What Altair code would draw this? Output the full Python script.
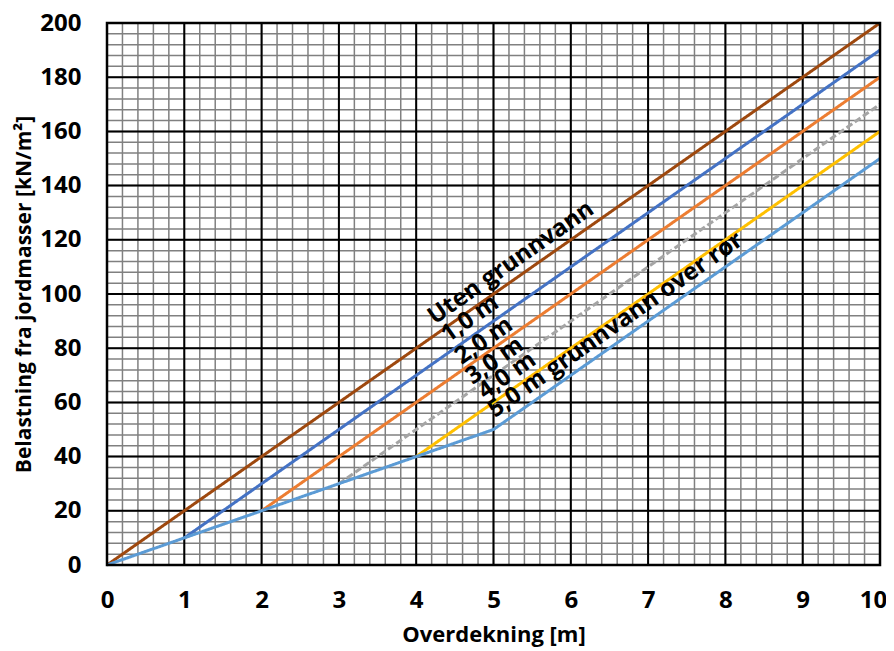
import altair as alt
import pandas as pd

# ---- data ----
series_names = ["Uten grunnvann", "1,0 m", "2,0 m", "3,0 m", "4,0 m", "5,0 m grunnvann over rør"]
series_x = [
    [0, 10],
    [1, 10],
    [2, 10],
    [3, 10],
    [4, 10],
    [0, 1, 2, 3, 4, 5, 10],
]
series_y = [
    [0, 200],
    [10, 190],
    [20, 180],
    [30, 170],
    [40, 160],
    [0, 10, 20, 30, 40, 50, 150],
]
series_colors = ["#9E480E", "#4472C4", "#ED7D31", "#A5A5A5", "#FFC000", "#5B9BD5"]
series_dash = [[1, 0], [1, 0], [1, 0], [7, 3], [1, 0], [1, 0]]

label_texts = ["Uten grunnvann", "1,0 m", "2,0 m", "3,0 m", "4,0 m", "5,0 m grunnvann over rør"]
label_x = [4.24, 4.41, 4.59, 4.73, 4.89, 5.02]
label_y = [88.6, 81.9, 73.8, 66.4, 60.9, 54.2]

x_ticks = [0, 1, 2, 3, 4, 5, 6, 7, 8, 9, 10]
y_ticks = [0, 20, 40, 60, 80, 100, 120, 140, 160, 180, 200]
x_minor = [i / 5 for i in range(51)]
y_minor = [i * 4 for i in range(51)]

# ---- build tables ----
rows = []
for k, name in enumerate(series_names):
    for xv, yv in zip(series_x[k], series_y[k]):
        rows.append({"series": name, "order": k, "x": xv, "y": yv})
lines_df = pd.DataFrame(rows)
labels_df = pd.DataFrame({"text": label_texts, "x": label_x, "y": label_y})

W, H = 773, 542
FONT = "Open Sans"

xscale = alt.Scale(domain=[0, 10], nice=False, zero=False)
yscale = alt.Scale(domain=[0, 200], nice=False, zero=False)
xaxis = alt.Axis(values=x_ticks, title="Overdekning [m]", grid=False, ticks=False, domain=False,
                 labelPadding=23, titlePadding=12, labelFlush=False, format="d",
                 labelOffset=alt.ExprRef(expr="datum.value == 10 ? -7 : 0"))
yaxis = alt.Axis(values=y_ticks, title="Belastning fra jordmasser [kN/m²]", grid=False, ticks=False,
                 domain=False, labelPadding=26, titlePadding=5, labelFlush=False, format="d",
                 titleFontSize=21)

X = lambda: alt.X("x:Q", scale=xscale, axis=xaxis)
Y = lambda: alt.Y("y:Q", scale=yscale, axis=yaxis)

xminor = alt.Chart(pd.DataFrame({"x": x_minor})).mark_rule(color="#808080", strokeWidth=1.5).encode(
    x=X(), y=alt.value(0), y2=alt.value(H))
yminor = alt.Chart(pd.DataFrame({"y": y_minor})).mark_rule(color="#808080", strokeWidth=1.5).encode(
    y=Y(), x=alt.value(0), x2=alt.value(W))
xmajor = alt.Chart(pd.DataFrame({"x": x_ticks})).mark_rule(color="#000000", strokeWidth=2).encode(
    x=X(), y=alt.value(0), y2=alt.value(H))
ymajor = alt.Chart(pd.DataFrame({"y": y_ticks})).mark_rule(color="#000000", strokeWidth=2).encode(
    y=Y(), x=alt.value(0), x2=alt.value(W))

lines = alt.Chart(lines_df).mark_line(strokeWidth=3).encode(
    x=X(), y=Y(),
    color=alt.Color("series:N", scale=alt.Scale(domain=series_names, range=series_colors), legend=None),
    strokeDash=alt.StrokeDash("series:N", scale=alt.Scale(domain=series_names, range=series_dash), legend=None),
    order=alt.Order("order:Q"),
)

labels = alt.Chart(labels_df).mark_text(
    align="left", baseline="alphabetic", angle=325, font=FONT, fontWeight="bold",
    fontSize=24, color="#000000").encode(
    x=X(), y=Y(), text="text:N")

border = alt.Chart(pd.DataFrame({"x": [0]})).mark_rect(
    fill=None, stroke="#000000", strokeWidth=2.5).encode(
    x=alt.value(0), x2=alt.value(W), y=alt.value(0), y2=alt.value(H))

chart = alt.layer(xminor, yminor, xmajor, ymajor, lines, labels, border).properties(
    width=W, height=H,
    background="white",
    autosize=alt.AutoSizeParams(type="none"),
    padding={"left": 99, "top": 15, "right": 6, "bottom": 84},
).configure_view(stroke=None).configure_axis(
    labelFont=FONT, labelFontWeight="bold", labelFontSize=24, labelColor="#000000",
    titleFont=FONT, titleFontWeight="bold", titleFontSize=22, titleColor="#000000",
)

chart.save("out.html", embed_options={"renderer": "svg", "actions": False})
